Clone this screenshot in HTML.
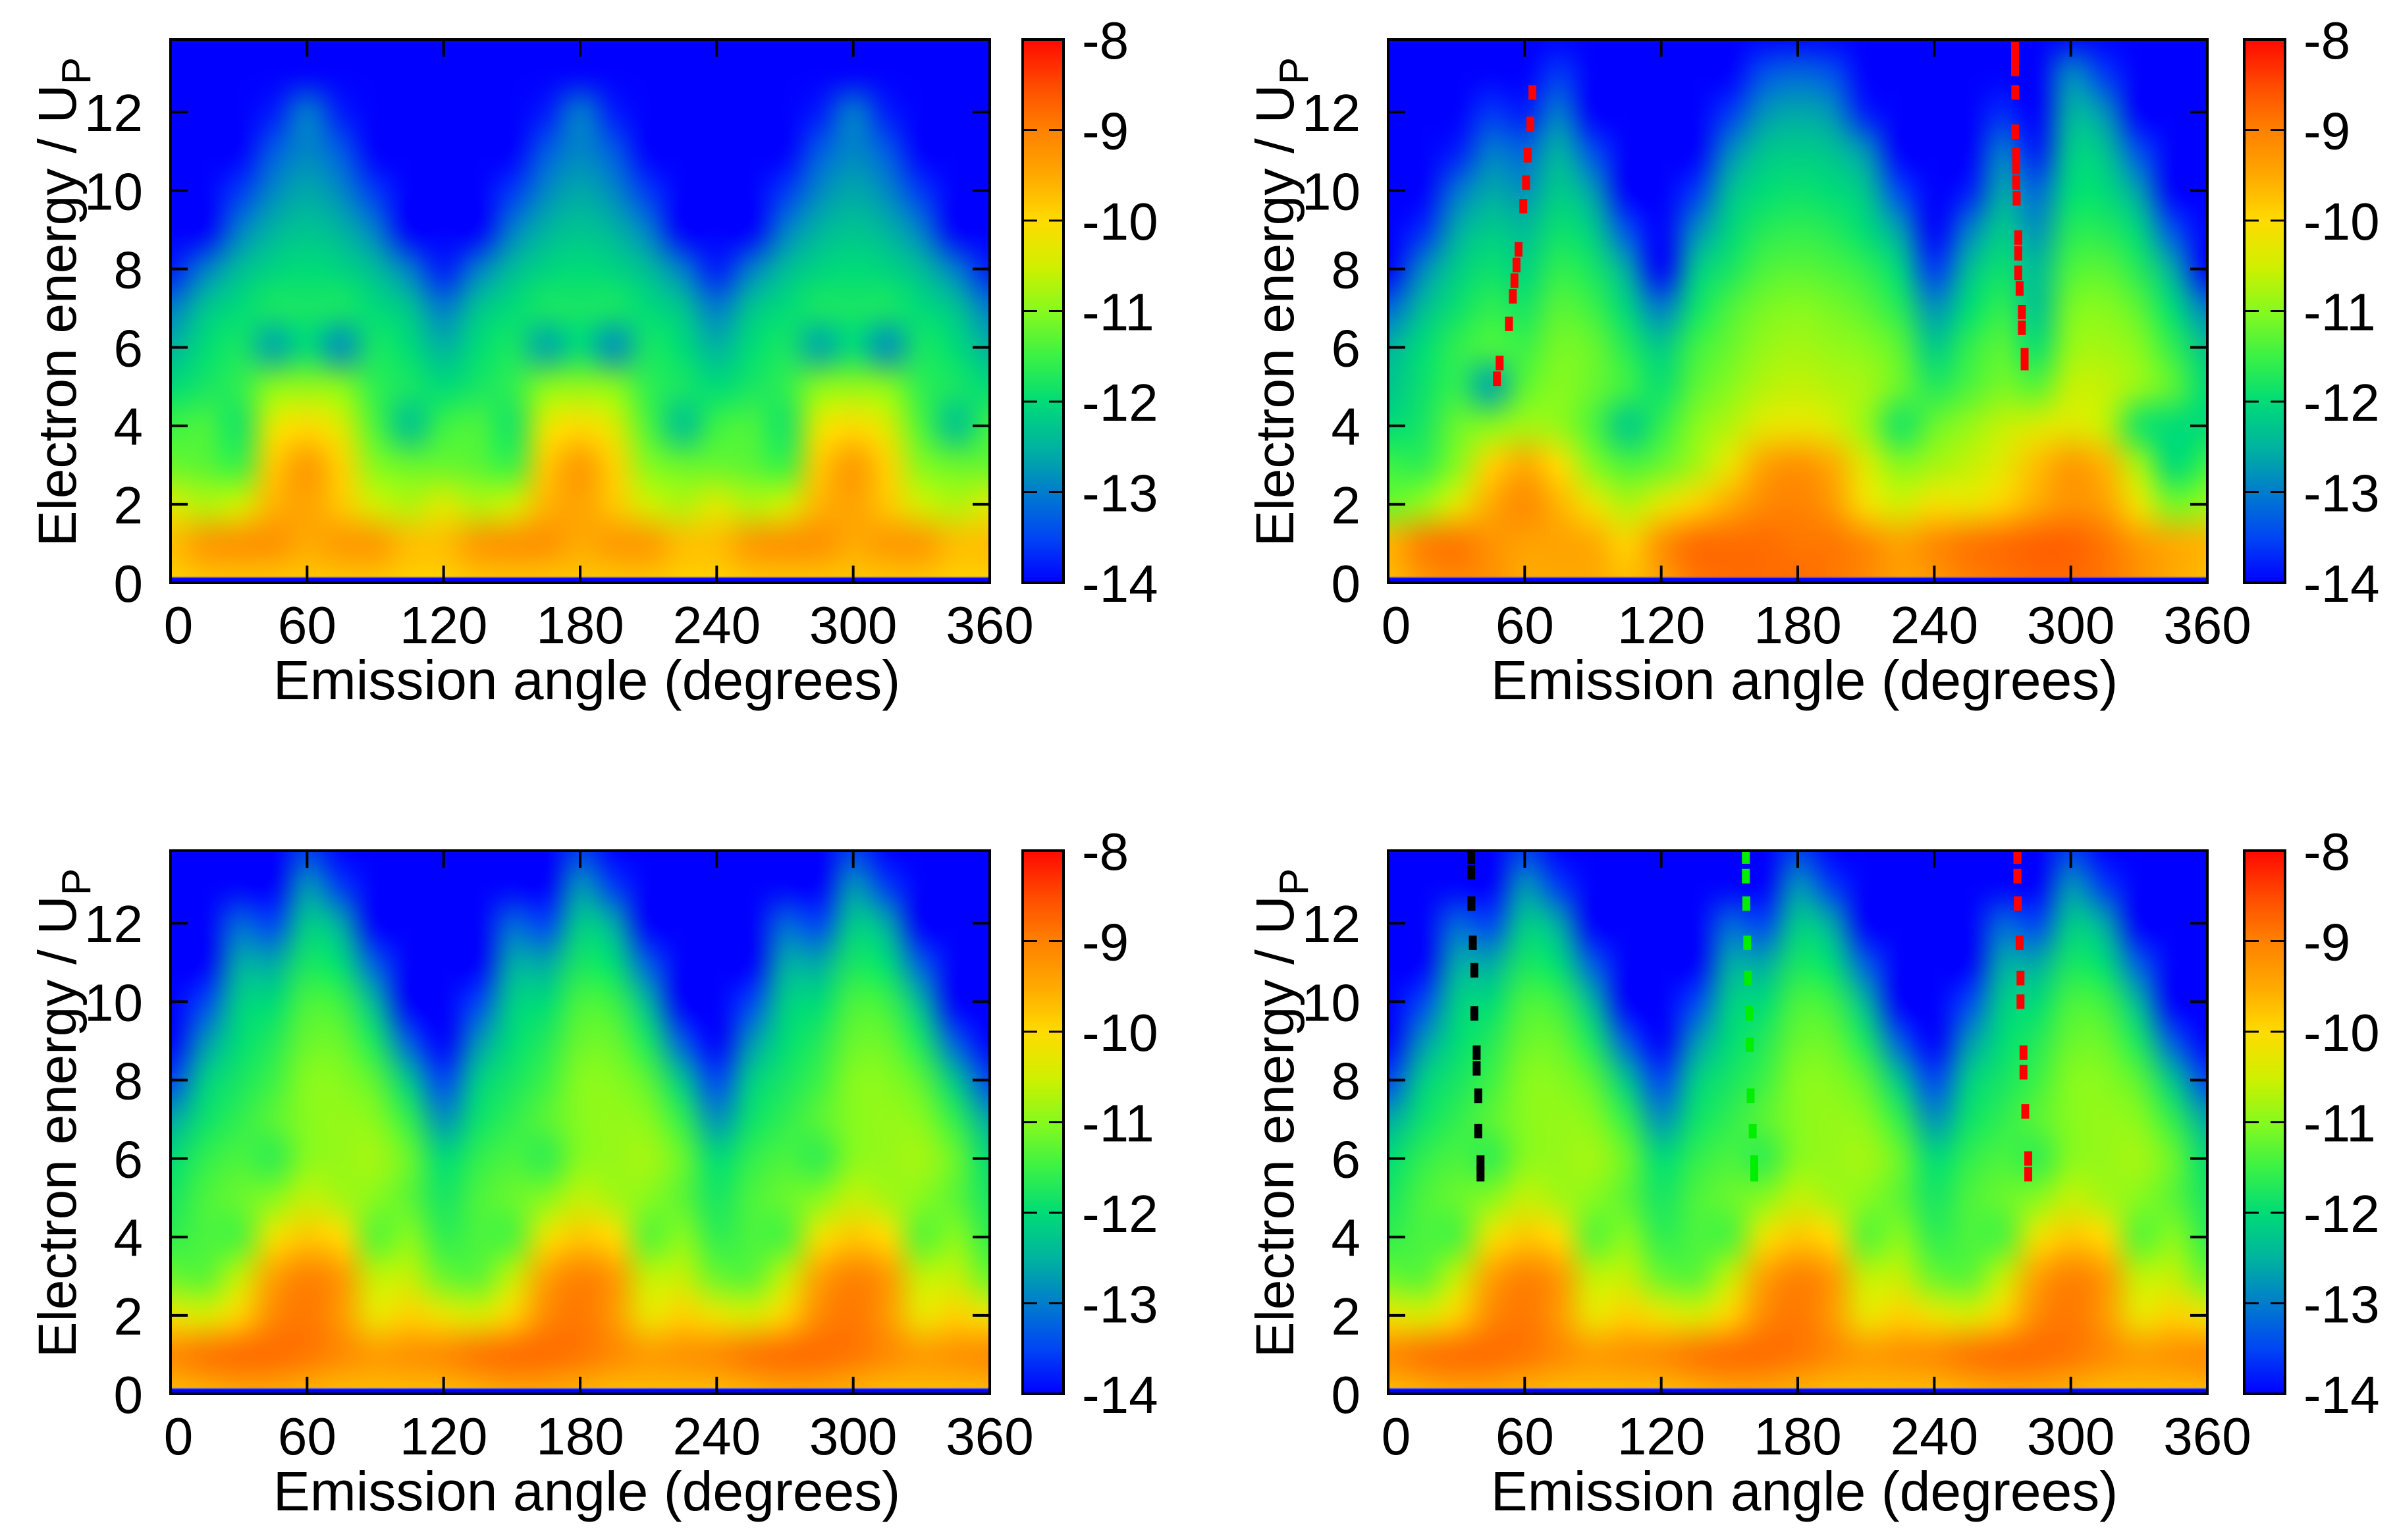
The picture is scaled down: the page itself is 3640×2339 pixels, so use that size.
<!DOCTYPE html>
<html><head><meta charset="utf-8">
<style>
html,body{margin:0;padding:0;background:#fff;}
#wrap{position:relative;width:3640px;height:2339px;overflow:hidden;background:#fff;}
canvas{position:absolute;}
svg{position:absolute;left:0;top:0;}
text{font-family:"Liberation Sans",sans-serif;fill:#000;}
</style></head>
<body>
<div id="wrap">
<svg id="svg" width="3640" height="2339"></svg>
</div>
<script>
// ---------- DATA ----------
const angleStep = 15; // degrees between grid columns (0..360)
const energyRows = [14,13,12,11,10,9,8,7,6,5,4,3,2,1,0];
const xTicks = [0,60,120,180,240,300,360];
const yTicks = [0,2,4,6,8,10,12];
const cbTicks = [-14,-13,-12,-11,-10,-9,-8];

const gridA = [
[-14,-14,-14,-14,-14,-14,-14,-14,-14,-14,-14,-14,-14,-14,-14,-14,-14,-14,-14,-14,-14,-14,-14,-14,-14],
[-14,-14,-14,-14,-14,-14,-14,-14,-14,-14,-14,-14,-14,-14,-14,-14,-14,-14,-14,-14,-14,-14,-14,-14,-14],
[-14,-14,-14,-13.8,-13.0,-13.8,-14,-14,-14,-14,-14,-13.8,-13.0,-13.8,-14,-14,-14,-14,-14,-13.8,-13.0,-13.8,-14,-14,-14],
[-14,-14,-14,-13.3,-12.9,-13.3,-14,-14,-14,-14,-14,-13.3,-12.9,-13.3,-14,-14,-14,-14,-14,-13.3,-12.9,-13.3,-14,-14,-14],
[-14,-14,-13.6,-12.9,-12.6,-12.9,-13.6,-14,-14,-14,-13.6,-12.9,-12.6,-12.9,-13.6,-14,-14,-14,-13.6,-12.9,-12.6,-12.9,-13.6,-14,-14],
[-14,-14,-13.0,-12.5,-12.3,-12.5,-13.0,-14,-14,-14,-13.0,-12.5,-12.3,-12.5,-13.0,-14,-14,-14,-13.0,-12.5,-12.3,-12.5,-13.0,-14,-14],
[-13.8,-13.0,-12.4,-12.1,-12.0,-12.1,-12.4,-13.0,-13.8,-13.0,-12.4,-12.1,-12.0,-12.1,-12.4,-13.0,-13.8,-13.0,-12.4,-12.1,-12.0,-12.1,-12.4,-13.0,-13.8],
[-13.0,-12.3,-12.0,-11.8,-11.8,-11.8,-12.0,-12.3,-13.0,-12.3,-12.0,-11.8,-11.8,-11.8,-12.0,-12.3,-13.0,-12.3,-12.0,-11.8,-11.8,-11.8,-12.0,-12.3,-13.0],
[-12.5,-12.0,-11.8,-12.6,-12.0,-12.8,-11.8,-12.0,-12.5,-12.0,-11.8,-12.6,-12.0,-12.8,-11.8,-12.0,-12.5,-12.0,-11.8,-12.6,-12.0,-12.8,-11.8,-12.0,-12.5],
[-12.0,-11.8,-11.6,-11.0,-10.9,-11.0,-11.6,-11.8,-12.0,-11.8,-11.6,-11.0,-10.9,-11.0,-11.6,-11.8,-12.0,-11.8,-11.6,-11.0,-10.9,-11.0,-11.6,-11.8,-12.0],
[-11.5,-11.4,-11.8,-10.3,-10.0,-10.4,-11.4,-12.3,-11.5,-11.4,-11.8,-10.3,-10.0,-10.4,-11.4,-12.3,-11.5,-11.4,-11.8,-10.3,-10.0,-10.4,-11.4,-12.3,-11.5],
[-11.2,-11.3,-11.5,-9.8,-9.3,-9.9,-11.0,-11.2,-11.2,-11.3,-11.5,-9.8,-9.3,-9.9,-11.0,-11.2,-11.2,-11.3,-11.5,-9.8,-9.3,-9.9,-11.0,-11.2,-11.2],
[-10.4,-10.7,-10.5,-9.6,-9.4,-9.8,-10.5,-10.7,-10.4,-10.7,-10.5,-9.6,-9.4,-9.8,-10.5,-10.7,-10.4,-10.7,-10.5,-9.6,-9.4,-9.8,-10.5,-10.7,-10.4],
[-9.7,-9.3,-9.2,-9.2,-9.5,-9.3,-9.3,-9.7,-9.7,-9.3,-9.2,-9.2,-9.5,-9.3,-9.3,-9.7,-9.7,-9.3,-9.2,-9.2,-9.5,-9.3,-9.3,-9.7,-9.7],
[-9.9,-9.8,-9.8,-9.8,-9.8,-9.8,-9.8,-9.9,-9.9,-9.8,-9.8,-9.8,-9.8,-9.8,-9.8,-9.9,-9.9,-9.8,-9.8,-9.8,-9.8,-9.8,-9.8,-9.9,-9.9]
];

const gridB = [
[-14,-14,-14,-14,-14,-14,-14,-14,-14,-14,-14,-14,-14,-14,-14,-14,-14,-14,-14,-14,-14,-14,-14,-14,-14],
[-14,-14,-14,-14,-14,-13.6,-14,-14,-14,-14,-14,-13.4,-13.2,-13.4,-14,-14,-14,-14,-14,-14,-12.9,-13.6,-14,-14,-14],
[-14,-14,-14,-13.6,-13.8,-13.0,-14,-14,-14,-14,-13.6,-12.8,-12.6,-12.8,-13.8,-14,-14,-14,-13.7,-14,-12.5,-12.8,-14,-14,-14],
[-14,-14,-13.8,-13.0,-13.2,-12.5,-13.4,-14,-14,-14,-12.9,-12.3,-12.2,-12.3,-12.8,-14,-14,-14,-13.0,-13.8,-12.2,-12.3,-13.4,-14,-14],
[-14,-14,-13.1,-12.6,-12.8,-12.2,-12.7,-14,-14,-13.6,-12.4,-12.0,-11.9,-12.0,-12.3,-13.5,-14,-13.8,-12.6,-13.2,-12.0,-12.0,-12.7,-14,-14],
[-14,-13.7,-12.6,-12.2,-12.4,-11.9,-12.2,-13.4,-14,-12.9,-12.1,-11.7,-11.6,-11.7,-12.0,-12.7,-14,-13.0,-12.2,-12.8,-11.7,-11.7,-12.1,-13.4,-14],
[-14,-12.9,-12.2,-11.9,-12.1,-11.6,-11.8,-12.6,-14,-12.3,-11.8,-11.4,-11.3,-11.4,-11.6,-12.1,-13.6,-12.4,-11.9,-12.4,-11.4,-11.3,-11.7,-12.6,-14],
[-13.2,-12.4,-11.9,-11.6,-11.8,-11.3,-11.5,-12.1,-13.0,-11.9,-11.4,-11.1,-11.0,-11.1,-11.3,-11.7,-12.8,-12.0,-11.6,-12.3,-11.1,-11.0,-11.3,-12.0,-13.0],
[-12.5,-12.0,-11.6,-11.4,-11.5,-11.1,-11.2,-11.7,-12.2,-11.5,-11.2,-10.9,-10.8,-10.9,-11.0,-11.3,-12.2,-11.6,-11.3,-11.9,-10.9,-10.8,-11.0,-11.6,-12.3],
[-12.3,-11.9,-11.6,-12.6,-11.3,-11.0,-11.2,-11.5,-11.9,-11.3,-11.0,-10.7,-10.6,-10.7,-10.8,-11.2,-11.7,-11.4,-11.1,-11.3,-10.6,-10.6,-10.9,-11.3,-12.0],
[-12.0,-11.8,-11.2,-11.0,-10.8,-10.9,-11.4,-12.2,-11.6,-11.0,-10.7,-10.3,-10.2,-10.4,-10.9,-11.8,-11.2,-10.9,-10.6,-10.4,-10.3,-10.6,-11.8,-12.0,-12.0],
[-11.5,-11.6,-11.0,-9.9,-9.5,-10.0,-11.0,-11.4,-11.2,-10.8,-10.2,-9.4,-9.2,-9.5,-10.4,-11.0,-10.8,-10.6,-10.3,-9.7,-9.3,-9.6,-10.8,-12.0,-11.5],
[-11.2,-10.9,-10.3,-9.5,-9.1,-9.6,-10.2,-10.7,-10.3,-9.9,-9.5,-9.1,-9.0,-9.3,-10.1,-10.5,-10.1,-10.2,-9.9,-9.5,-9.2,-9.4,-10.2,-11.1,-10.9],
[-9.6,-9.0,-8.9,-9.2,-9.4,-9.4,-9.5,-9.9,-9.2,-8.8,-8.8,-8.8,-8.9,-8.9,-9.1,-9.4,-9.1,-8.9,-8.8,-8.7,-8.7,-8.9,-9.3,-9.5,-9.6],
[-9.7,-9.3,-9.1,-9.2,-9.5,-9.5,-9.5,-9.7,-9.4,-8.9,-8.8,-8.8,-8.8,-8.9,-9.1,-9.4,-9.3,-9.0,-8.9,-8.8,-8.8,-8.9,-9.2,-9.5,-9.7]
];

const gridC = [
[-14,-14,-14,-14,-13.6,-14,-14,-14,-14,-14,-14,-14,-13.6,-14,-14,-14,-14,-14,-14,-14,-13.6,-14,-14,-14,-14],
[-14,-14,-14,-14,-12.8,-13.6,-14,-14,-14,-14,-14,-14,-12.8,-13.6,-14,-14,-14,-14,-14,-14,-12.8,-13.6,-14,-14,-14],
[-14,-14,-13.2,-13.5,-12.2,-12.6,-14,-14,-14,-14,-13.2,-13.5,-12.2,-12.6,-14,-14,-14,-14,-13.2,-13.5,-12.2,-12.6,-14,-14,-14],
[-14,-14,-12.6,-12.6,-11.8,-12.0,-13.3,-14,-14,-14,-12.6,-12.6,-11.8,-12.0,-13.3,-14,-14,-14,-12.6,-12.6,-11.8,-12.0,-13.3,-14,-14],
[-14,-13.5,-12.2,-12.0,-11.4,-11.5,-12.5,-14,-14,-13.5,-12.2,-12.0,-11.4,-11.5,-12.5,-14,-14,-13.5,-12.2,-12.0,-11.4,-11.5,-12.5,-14,-14],
[-14,-12.8,-12.0,-11.7,-11.2,-11.2,-11.8,-13.3,-14,-12.8,-12.0,-11.7,-11.2,-11.2,-11.8,-13.3,-14,-12.8,-12.0,-11.7,-11.2,-11.2,-11.8,-13.3,-14],
[-13.5,-12.2,-11.8,-11.5,-11.0,-11.0,-11.3,-12.3,-13.5,-12.2,-11.8,-11.5,-11.0,-11.0,-11.3,-12.3,-13.5,-12.2,-11.8,-11.5,-11.0,-11.0,-11.3,-12.3,-13.5],
[-12.6,-11.9,-11.6,-11.3,-11.0,-10.9,-11.0,-11.6,-12.8,-11.9,-11.6,-11.3,-11.0,-10.9,-11.0,-11.6,-12.8,-11.9,-11.6,-11.3,-11.0,-10.9,-11.0,-11.6,-12.6],
[-12.0,-11.6,-11.4,-11.6,-11.0,-10.9,-10.8,-11.2,-12.0,-11.6,-11.4,-11.6,-11.0,-10.9,-10.8,-11.2,-12.0,-11.6,-11.4,-11.6,-11.0,-10.9,-10.8,-11.2,-12.0],
[-11.8,-11.4,-11.2,-11.0,-10.6,-10.8,-11.0,-11.3,-11.8,-11.4,-11.2,-11.0,-10.6,-10.8,-11.0,-11.3,-11.8,-11.4,-11.2,-11.0,-10.6,-10.8,-11.0,-11.3,-11.8],
[-11.6,-11.4,-11.4,-10.2,-9.8,-10.0,-11.3,-11.0,-11.6,-11.4,-11.4,-10.2,-9.8,-10.0,-11.3,-11.0,-11.6,-11.4,-11.4,-10.2,-9.8,-10.0,-11.3,-11.0,-11.6],
[-11.2,-11.3,-10.6,-9.4,-9.0,-9.3,-10.6,-10.6,-11.2,-11.3,-10.6,-9.4,-9.0,-9.3,-10.6,-10.6,-11.2,-11.3,-10.6,-9.4,-9.0,-9.3,-10.6,-10.6,-11.2],
[-10.2,-10.4,-9.9,-9.1,-8.9,-9.3,-10.2,-9.9,-10.2,-10.4,-9.9,-9.1,-8.9,-9.3,-10.2,-9.9,-10.2,-10.4,-9.9,-9.1,-8.9,-9.3,-10.2,-9.9,-10.2],
[-9.1,-8.9,-8.8,-8.8,-8.9,-9.1,-9.3,-9.2,-9.1,-8.9,-8.8,-8.8,-8.9,-9.1,-9.3,-9.2,-9.1,-8.9,-8.8,-8.8,-8.9,-9.1,-9.3,-9.2,-9.1],
[-9.7,-9.6,-9.5,-9.5,-9.6,-9.7,-9.7,-9.7,-9.7,-9.6,-9.5,-9.5,-9.6,-9.7,-9.7,-9.7,-9.7,-9.6,-9.5,-9.5,-9.6,-9.7,-9.7,-9.7,-9.7]
];

// dotted trajectory lines: angle (deg) and energy (Up)
const bLeftAngles   = [63.4,62.5,61.3,60.6,59.4,57.3,56.4,55.5,54.8,53.1,49.0,47.8];
const bLeftEnergies = [12.5,11.7,10.9,10.2,9.6,8.5,8.1,7.7,7.3,6.6,5.6,5.2];
const bRightAngles   = [275.5,275.5,275.5,275.6,275.6,276.0,276.0,276.0,276.2,276.9,276.9,276.9,277.5,278.5,278.5,279.7,279.7];
const bRightEnergies = [13.6,13.3,13.1,12.5,11.5,10.9,10.6,10.2,9.8,8.8,8.4,7.9,7.5,6.9,6.5,5.8,5.6];
const dBlackAngles   = [36.5,36.5,36.6,37.2,37.9,37.9,38.9,38.9,39.6,39.6,40.6,40.6];
const dBlackEnergies = [13.7,13.3,12.5,11.5,10.8,9.7,8.7,8.3,7.6,6.7,5.9,5.6];
const dGreenAngles   = [157.2,157.2,157.4,157.8,158.2,158.6,158.9,159.3,160.2,160.9,160.9];
const dGreenEnergies = [13.7,13.2,12.5,11.5,10.6,9.7,8.9,7.6,6.7,5.9,5.6];
const dRedAngles     = [276.5,276.5,276.7,277.5,277.9,277.9,279.2,279.2,280.0,281.3,281.3];
const dRedEnergies   = [13.7,13.2,12.5,11.5,10.6,10.0,8.7,8.2,7.2,6.0,5.6];

// ---------- LAYOUT ----------
const Y_MAX = 13.85, X_MAX = 360, C_MIN = -14, C_MAX = -8;
const panels = [
  {id:'top-left',     x0:259,  x1:1503, y0:60,   y1:885,  cb0:1553, cb1:1615, grid:gridA, lines:[]},
  {id:'top-right',    x0:2108, x1:3352, y0:60,   y1:885,  cb0:3408, cb1:3470, grid:gridB,
     lines:[{a:bLeftAngles,e:bLeftEnergies,c:'#ff0000',n:'trajectory-red-left'},{a:bRightAngles,e:bRightEnergies,c:'#ff0000',n:'trajectory-red-right'}]},
  {id:'bottom-left',  x0:259,  x1:1503, y0:1292, y1:2117, cb0:1553, cb1:1615, grid:gridC, lines:[]},
  {id:'bottom-right', x0:2108, x1:3352, y0:1292, y1:2117, cb0:3408, cb1:3470, grid:gridC,
     lines:[{a:dBlackAngles,e:dBlackEnergies,c:'#000000',n:'trajectory-black'},{a:dGreenAngles,e:dGreenEnergies,c:'#00ee00',n:'trajectory-green'},{a:dRedAngles,e:dRedEnergies,c:'#ff0000',n:'trajectory-red'}]}
];

const stops = [[-14,0,0,255],[-13.5,0,70,245],[-13,0,125,205],[-12.5,0,180,160],[-12,0,220,120],[-11.5,60,242,70],[-11,135,250,30],[-10.5,210,240,0],[-10,255,220,0],[-9.5,255,170,0],[-9,255,130,0],[-8.5,255,75,0],[-8,255,10,0]];
function cmap(v){
  v=Math.max(C_MIN,Math.min(C_MAX,v));
  for(let i=0;i<stops.length-1;i++){
    const a=stops[i],b=stops[i+1];
    if(v<=b[0]){const t=(v-a[0])/(b[0]-a[0]);
      return [a[1]+t*(b[1]-a[1]),a[2]+t*(b[2]-a[2]),a[3]+t*(b[3]-a[3])];}
  }
  return stops[stops.length-1].slice(1);
}

const svg=document.getElementById('svg');
const wrap=document.getElementById('wrap');
const NS='http://www.w3.org/2000/svg';
function mk(tag,attrs,parent){const e=document.createElementNS(NS,tag);for(const k in attrs)e.setAttribute(k,attrs[k]);(parent||svg).appendChild(e);return e;}

panels.forEach(p=>{
  const W=p.x1-p.x0,H=p.y1-p.y0;
  const xs=a=>p.x0+a/X_MAX*W;
  const ys=e=>p.y1-e/Y_MAX*H;
  const cs=v=>p.y1-(v-C_MIN)/(C_MAX-C_MIN)*H;
  const nc=p.grid[0].length,nr=p.grid.length;
  const small=document.createElement('canvas');small.width=nc;small.height=nr;
  const sctx=small.getContext('2d');const img=sctx.createImageData(nc,nr);
  for(let r=0;r<nr;r++)for(let c=0;c<nc;c++){const col=cmap(p.grid[r][c]);const k=(r*nc+c)*4;img.data[k]=col[0];img.data[k+1]=col[1];img.data[k+2]=col[2];img.data[k+3]=255;}
  sctx.putImageData(img,0,0);
  const cv=document.createElement('canvas');cv.width=W;cv.height=H;
  cv.style.left=p.x0+'px';cv.style.top=p.y0+'px';
  
  
  wrap.insertBefore(cv,svg);
  const ctx=cv.getContext('2d');ctx.imageSmoothingEnabled=true;ctx.imageSmoothingQuality='high';
  const left=xs(-angleStep/2)-p.x0, right=xs(X_MAX+angleStep/2)-p.x0;
  const top=ys(energyRows[0]+0.5)-p.y0, bot=ys(energyRows[nr-1]-0.5)-p.y0;
  ctx.drawImage(small,0,0,nc,nr,left,top,right-left,bot-top);
  ctx.fillStyle='#0000ff';ctx.fillRect(0,H-7,W,7);
  ctx.fillStyle='#6060d0';ctx.fillRect(0,H-9,W,2);
  const cb=document.createElement('canvas');cb.width=1;cb.height=H;
  cb.style.left=p.cb0+'px';cb.style.top=p.y0+'px';cb.style.width=(p.cb1-p.cb0)+'px';cb.style.height=H+'px';
  
  
  const cbc=cb.getContext('2d');
  for(let y=0;y<H;y++){const v=C_MAX-(y/H)*(C_MAX-C_MIN);const c=cmap(v);cbc.fillStyle=`rgb(${c[0]|0},${c[1]|0},${c[2]|0})`;cbc.fillRect(0,y,1,1);}
  wrap.insertBefore(cb,svg);

  const g=mk('g',{});
  
  
  p.lines.forEach(L=>{
    const lg=mk('g',{},g);
    
    
    L.a.forEach((a,i)=>{
      const r=mk('rect',{x:xs(a)-6,y:ys(L.e[i])-11,width:12,height:22,fill:L.c},lg);
      
      
    });
  });
  const fr=mk('rect',{x:p.x0,y:p.y0,width:W,height:H,fill:'none',stroke:'#000','stroke-width':4},g);
  
  
  xTicks.forEach(t=>{
    const x=xs(t);
    if(t>0&&t<X_MAX){mk('line',{x1:x,y1:p.y1,x2:x,y2:p.y1-26,stroke:'#000','stroke-width':4},g);mk('line',{x1:x,y1:p.y0,x2:x,y2:p.y0+26,stroke:'#000','stroke-width':4},g);}
    const tx=mk('text',{x:x+(t===0?12:0),y:p.y1+92,'font-size':80,'text-anchor':'middle'},g);tx.textContent=t;
    
    
  });
  yTicks.forEach(t=>{
    const y=ys(t);
    if(t>0){mk('line',{x1:p.x0,y1:y,x2:p.x0+26,y2:y,stroke:'#000','stroke-width':4},g);mk('line',{x1:p.x1,y1:y,x2:p.x1-26,y2:y,stroke:'#000','stroke-width':4},g);}
    const tx=mk('text',{x:p.x0-42,y:y+29,'font-size':80,'text-anchor':'end'},g);tx.textContent=t;
    
    
  });
  const cbf=mk('rect',{x:p.cb0,y:p.y0,width:p.cb1-p.cb0,height:H,fill:'none',stroke:'#000','stroke-width':4},g);
  
  
  cbTicks.forEach(t=>{
    const y=cs(t);
    if(t>C_MIN&&t<C_MAX){mk('line',{x1:p.cb0,y1:y,x2:p.cb0+22,y2:y,stroke:'#000','stroke-width':3},g);mk('line',{x1:p.cb1-22,y1:y,x2:p.cb1,y2:y,stroke:'#000','stroke-width':3},g);}
    const tx=mk('text',{x:p.cb1+28,y:y+29,'font-size':80},g);tx.textContent=t;
    
    
  });
  const xt=mk('text',{x:(p.x0+p.x1)/2+10,y:p.y1+177,'font-size':84,'text-anchor':'middle'},g);
  xt.textContent='Emission angle (degrees)';
  
  
  const yc=(p.y0+p.y1)/2-14, yx=p.x0-144;
  const yt=mk('text',{x:0,y:0,'font-size':82,'text-anchor':'middle',transform:`translate(${yx},${yc}) rotate(-90)`},g);
  
  
  const t1=mk('tspan',{},yt);t1.textContent='Electron energy / U';
  const t2=mk('tspan',{dy:22,'font-size':62},yt);t2.textContent='P';
});
</script>
</body></html>
